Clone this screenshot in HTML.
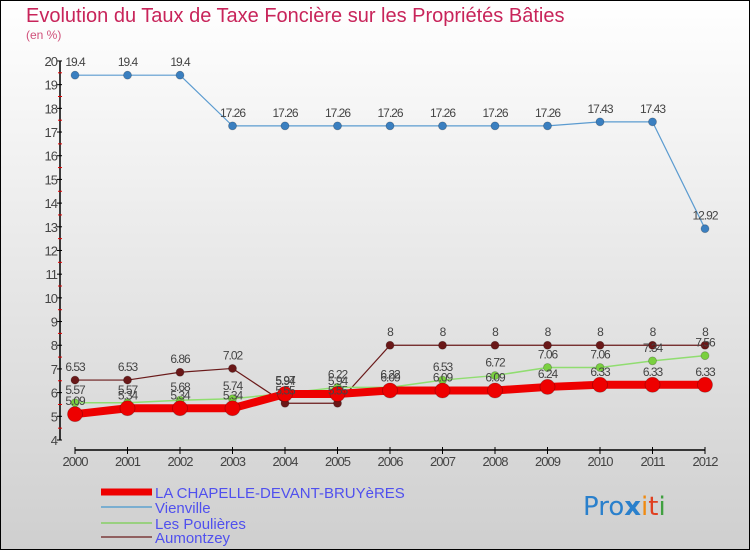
<!DOCTYPE html>
<html><head><meta charset="utf-8"><style>
html,body{margin:0;padding:0;}
body{width:750px;height:550px;overflow:hidden;font-family:"Liberation Sans",sans-serif;}
</style></head><body>
<svg id="chart" width="750" height="550" xmlns="http://www.w3.org/2000/svg" style="display:block">
<defs><linearGradient id="bg" x1="0" y1="0" x2="0" y2="1"><stop offset="0" stop-color="#ffffff"/><stop offset="1" stop-color="#cfcfcf"/></linearGradient></defs>
<rect x="0.5" y="0.5" width="749" height="549" fill="url(#bg)" stroke="#000"/>
<text x="26" y="22" font-size="20" fill="#c8245a">Evolution du Taux de Taxe Foncière sur les Propriétés Bâties</text>
<text x="26" y="39" font-size="12" fill="#d0507a">(en %)</text>
<g id="axes"></g><g id="series"></g><g id="labels"></g>
<g font-size="15" fill="#5050ee">
<line x1="101" y1="492" x2="152" y2="492" stroke="#ee0000" stroke-width="7"/>
<text x="155" y="498">LA CHAPELLE-DEVANT-BRUYèRES</text>
<line x1="101" y1="507" x2="152" y2="507" stroke="#7aaed0" stroke-width="2"/>
<text x="155" y="513">Vienville</text>
<line x1="101" y1="523" x2="152" y2="523" stroke="#99d080" stroke-width="2"/>
<text x="155" y="529">Les Poulières</text>
<line x1="101" y1="537" x2="152" y2="537" stroke="#906060" stroke-width="2"/>
<text x="155" y="543">Aumontzey</text>
</g>
<g font-size="26" font-family="'DejaVu Sans',sans-serif">
<text x="583" y="515"><tspan fill="#2a80cc">Pro</tspan><tspan fill="#2a80cc" font-weight="bold">x</tspan><tspan fill="#f08a10">i</tspan><tspan fill="#e04020">t</tspan><tspan fill="#40a040">i</tspan></text>
</g>
</svg>
<script>
const years = [2000,2001,2002,2003,2004,2005,2006,2007,2008,2009,2010,2011,2012];
const laChapelle = [5.09,5.34,5.34,5.34,5.94,5.94,6.09,6.09,6.09,6.24,6.33,6.33,6.33];
const vienville = [19.4,19.4,19.4,17.26,17.26,17.26,17.26,17.26,17.26,17.26,17.43,17.43,12.92];
const poulieres = [5.57,5.57,5.68,5.74,5.97,6.22,6.22,6.53,6.72,7.06,7.06,7.34,7.56];
const aumontzey = [6.53,6.53,6.86,7.02,5.55,5.55,8,8,8,8,8,8,8];
const yTicks = [4,5,6,7,8,9,10,11,12,13,14,15,16,17,18,19,20];

const NS='http://www.w3.org/2000/svg';
const X = i => 75 + i*52.5;
const Y = v => 440 - (v-4)*23.69;
function mk(tag, attrs, parent){const e=document.createElementNS(NS,tag);for(const k in attrs)e.setAttribute(k,attrs[k]);parent.appendChild(e);return e;}
const axes=document.getElementById('axes'), ser=document.getElementById('series'), lab=document.getElementById('labels');

let e=mk('line',{x1:60,y1:Y(20),x2:60,y2:Y(4),stroke:'#000','stroke-width':1.5},axes);


e=mk('line',{x1:X(0),y1:450,x2:X(12),y2:450,stroke:'#000','stroke-width':1.5},axes);


yTicks.forEach(v=>{
  mk('line',{x1:57,y1:Y(v),x2:62,y2:Y(v),stroke:'#000'},axes);
  if(v<20){mk('line',{x1:58,y1:Y(v+0.5),x2:62,y2:Y(v+0.5),stroke:'#e00000'},axes);}
  const t=mk('text',{x:57,y:Y(v)+5,'text-anchor':'end','font-size':13,fill:'#444','letter-spacing':'-1'},axes);
  t.textContent=v;
  
  
});
years.forEach((yr,i)=>{
  mk('line',{x1:X(i),y1:447,x2:X(i),y2:454,stroke:'#000'},axes);
  const t=mk('text',{x:X(i),y:466,'text-anchor':'middle','font-size':13,fill:'#444','letter-spacing':'-1'},axes);
  t.textContent=yr;
  
  
});

function draw(name,data,color,w,r,dot){
  const pts=data.map((v,i)=>X(i)+','+Y(v)).join(' ');
  const g=mk('g',{},ser);
  
  
  mk('polyline',{points:pts,fill:'none',stroke:color,'stroke-width':w,'stroke-linejoin':'round'},g);
  data.forEach((v,i)=>{
    const c=mk('circle',{cx:X(i),cy:Y(v),r:r,fill:dot,stroke:'rgba(0,0,0,0.25)','stroke-width':0.8},g);
    
    
    const t=mk('text',{x:X(i),y:Y(v)-9,'text-anchor':'middle','font-size':12,fill:'#444','letter-spacing':'-1'},lab);
    t.textContent=v;
    
    
  });
}
draw('vienville',vienville,'#5b9bd0',1.2,4,'#3a7fc0');
draw('aumontzey',aumontzey,'#6a1a1a',1.2,4,'#6a1818');
draw('les-poulieres',poulieres,'#90dd70',1.5,4,'#7ad040');
draw('la-chapelle',laChapelle,'#ee0000',8,7.5,'#ee0000');
</script>
</body></html>
